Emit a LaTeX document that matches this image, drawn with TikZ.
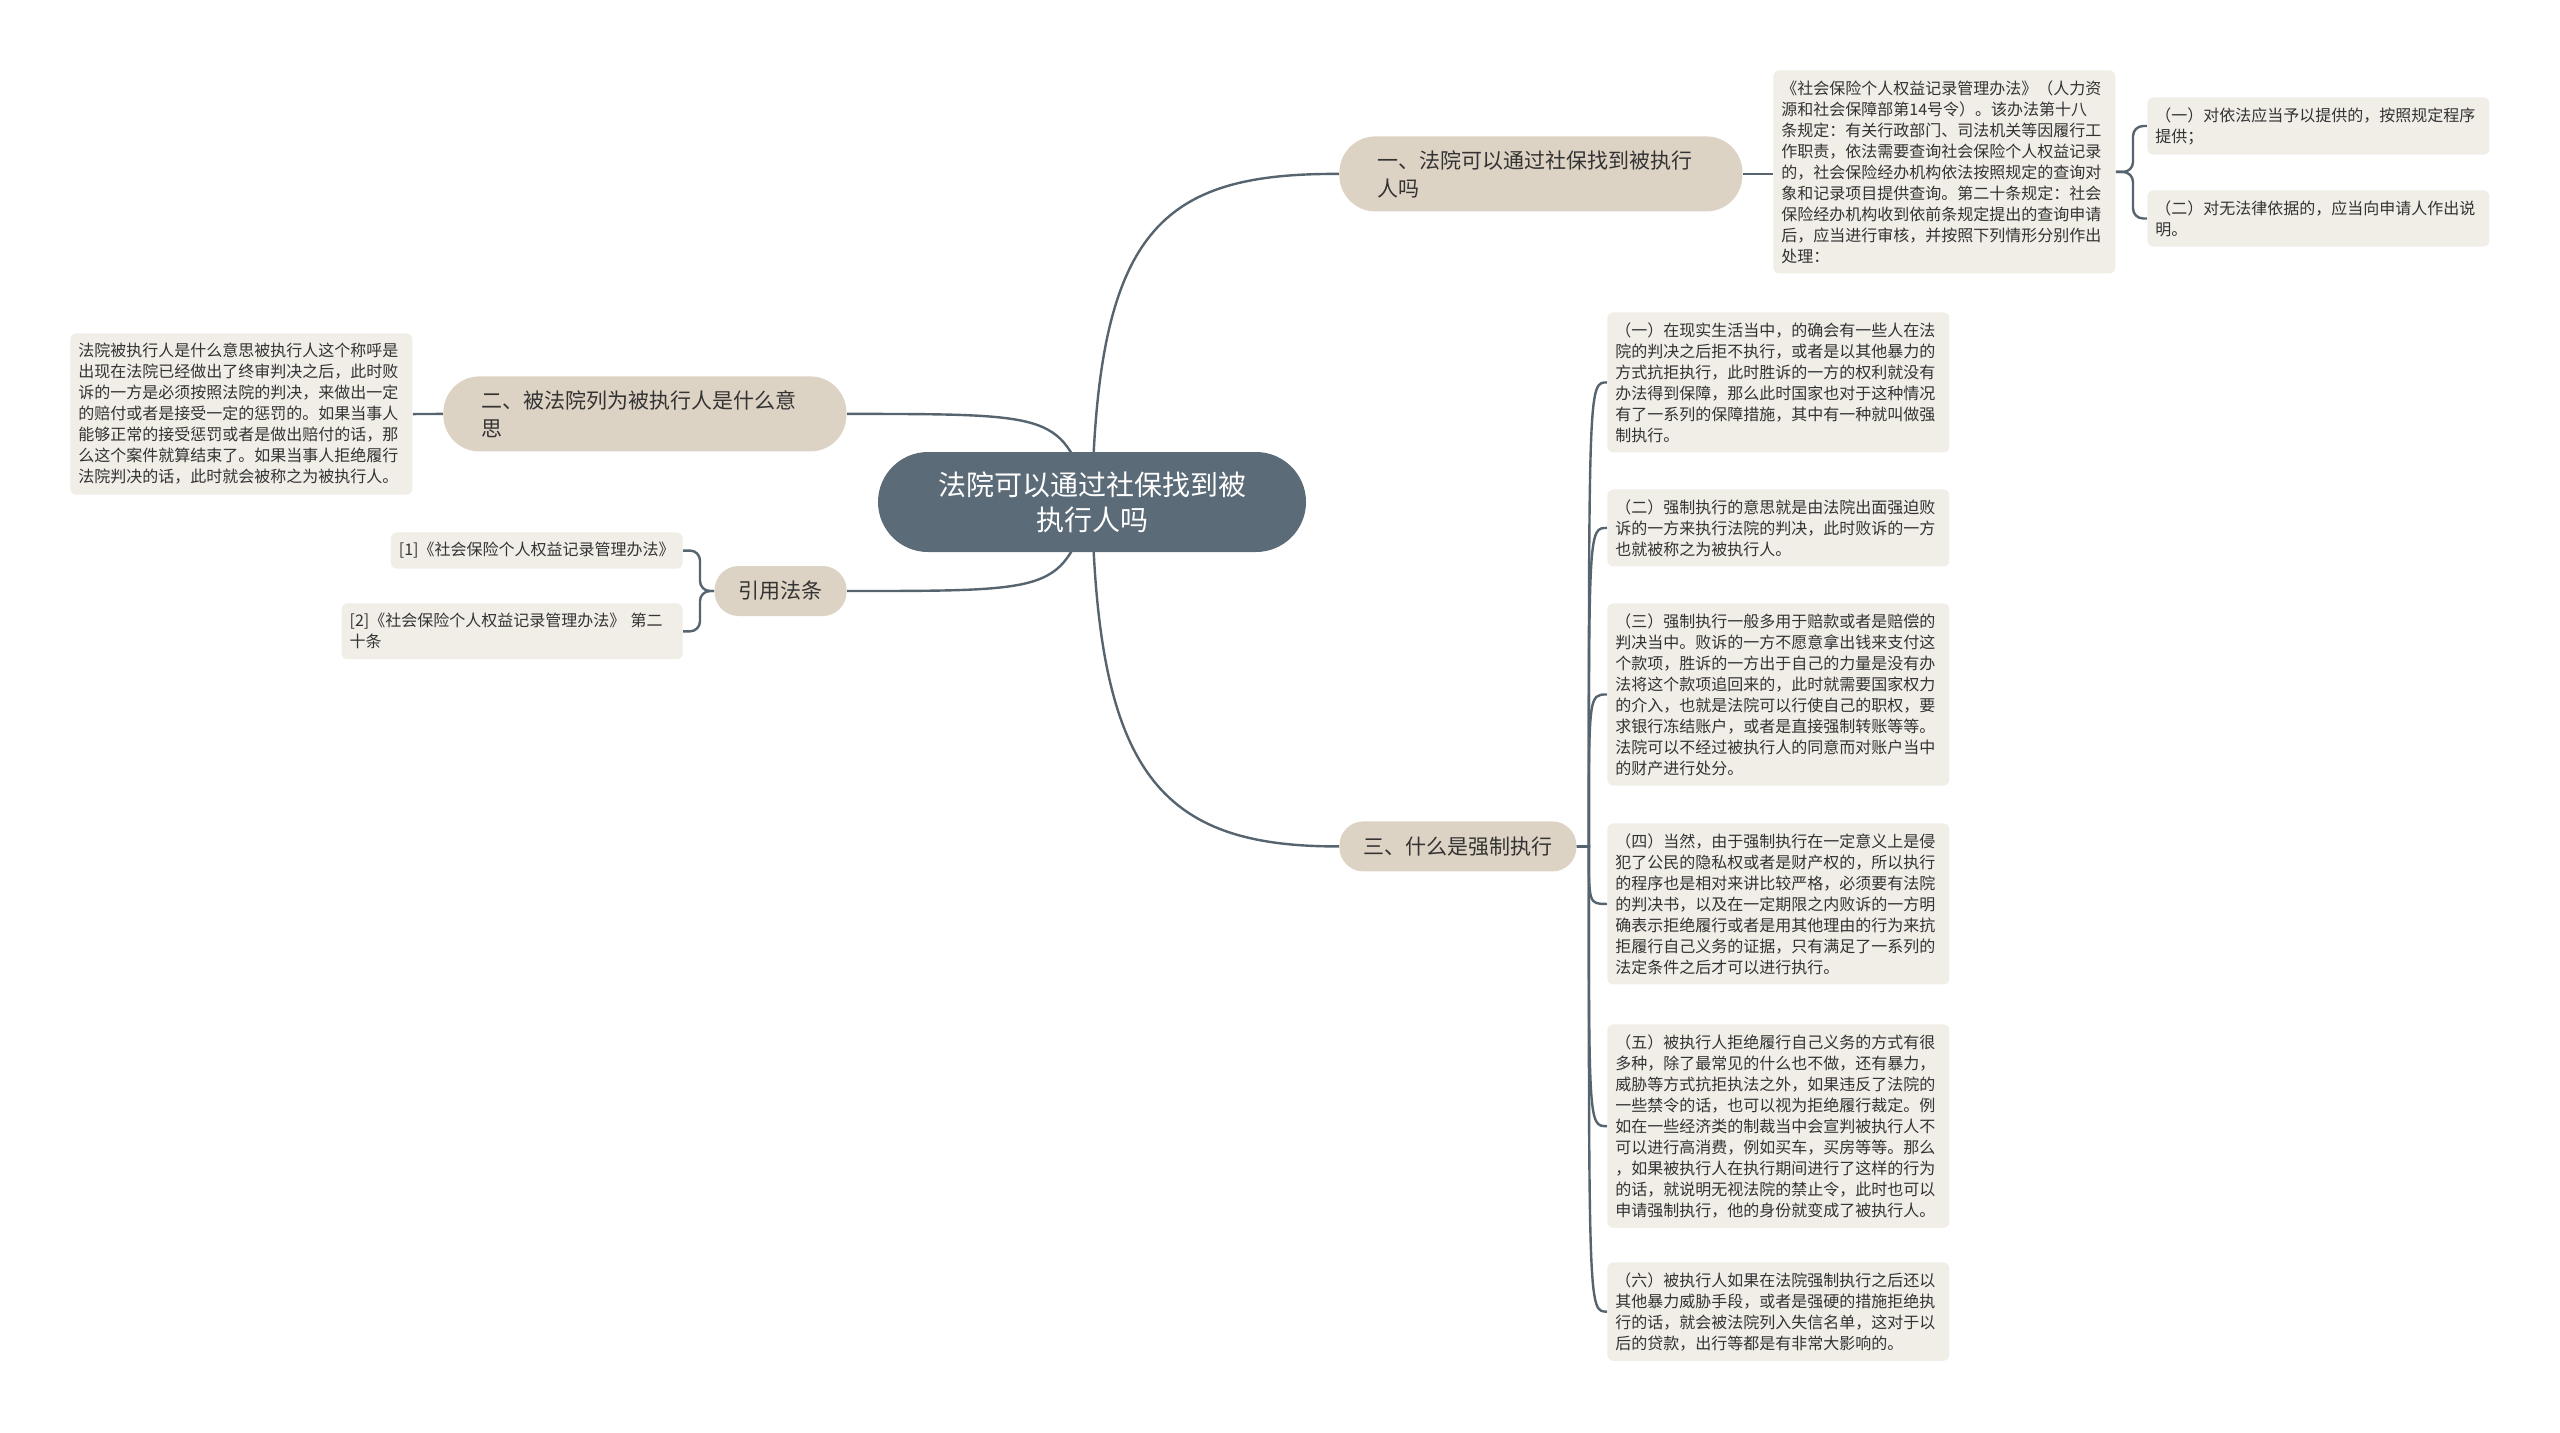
\documentclass[tikz,border=0pt]{standalone}
\usepackage{fontspec}
\setmainfont{Noto Sans CJK SC}
\usetikzlibrary{backgrounds}
\definecolor{rootc}{HTML}{5B6B77}
\definecolor{topicc}{HTML}{DDD3C4}
\definecolor{notec}{HTML}{F1EEE8}
\definecolor{linec}{HTML}{55646E}
\definecolor{textc}{HTML}{333333}

\begin{document}
\begin{tikzpicture}[x=0.5pt,y=-0.5pt,line cap=round,line join=round,
    root/.style={fill=rootc, text=white, rounded corners=25pt, minimum width=214pt, minimum height=50pt, inner sep=0pt, align=center, font=\fontsize{14pt}{17.5pt}\selectfont},
    topic/.style={fill=topicc, text=textc, inner ysep=3pt, align=left, font=\fontsize{10.5pt}{14pt}\selectfont},
    twoline/.style={topic, text width=163.5pt, inner xsep=19pt, minimum height=37.5pt, rounded corners=18pt},
    oneline/.style={topic, inner xsep=12pt, minimum height=25pt, rounded corners=12pt},
    note/.style={fill=notec, text=textc, rounded corners=3pt, inner xsep=4pt, inner ysep=5pt, align=left, font=\fontsize{8pt}{10.5pt}\selectfont},
    leaf/.style={note, text width=163pt},
    link/.style={draw=linec, line width=1.2pt}]
    \useasboundingbox (0,0) rectangle (2560,1432);

    \node[root] (root) at (1092,502) {法院可以通过社保找到被\\执行人吗};

    \node[twoline, anchor=north west] (b1) at (1339,136) {一、法院可以通过社保找到被执行\\人吗};
    \node[twoline, anchor=north west] (b2) at (443,376) {二、被法院列为被执行人是什么意\\思};
    \node[oneline, anchor=east] (ref) at (847,591) {引用法条};
    \node[oneline, anchor=north west] (b3) at (1339,821) {三、什么是强制执行};

    \node[leaf, anchor=north west] (a0) at (1773,70) {《社会保险个人权益记录管理办法》（人力资\\源和社会保障部第14号令）。该办法第十八\\条规定：有关行政部门、司法机关等因履行工\\作职责，依法需要查询社会保险个人权益记录\\的，社会保险经办机构依法按照规定的查询对\\象和记录项目提供查询。第二十条规定：社会\\保险经办机构收到依前条规定提出的查询申请\\后，应当进行审核，并按照下列情形分别作出\\处理：};
    \node[leaf, anchor=north west] (a1) at (2147,97) {（一）对依法应当予以提供的，按照规定程序\\提供；};
    \node[leaf, anchor=north west] (a2) at (2147,190) {（二）对无法律依据的，应当向申请人作出说\\明。};

    \node[leaf, anchor=north west] (d0) at (70,333) {法院被执行人是什么意思被执行人这个称呼是\\出现在法院已经做出了终审判决之后，此时败\\诉的一方是必须按照法院的判决，来做出一定\\的赔付或者是接受一定的惩罚的。如果当事人\\能够正常的接受惩罚或者是做出赔付的话，那\\么这个案件就算结束了。如果当事人拒绝履行\\法院判决的话，此时就会被称之为被执行人。};

    \node[note, anchor=north east] (r1) at (683,532) {[1]《社会保险个人权益记录管理办法》};
    \node[note, text width=162.5pt, anchor=north east] (r2) at (683,603) {[2]《社会保险个人权益记录管理办法》 第二\\十条};

    \node[leaf, anchor=north west] (c1) at (1607,312) {（一）在现实生活当中，的确会有一些人在法\\院的判决之后拒不执行，或者是以其他暴力的\\方式抗拒执行，此时胜诉的一方的权利就没有\\办法得到保障，那么此时国家也对于这种情况\\有了一系列的保障措施，其中有一种就叫做强\\制执行。};
    \node[leaf, anchor=north west] (c2) at (1607,489) {（二）强制执行的意思就是由法院出面强迫败\\诉的一方来执行法院的判决，此时败诉的一方\\也就被称之为被执行人。};
    \node[leaf, anchor=north west] (c3) at (1607,603) {（三）强制执行一般多用于赔款或者是赔偿的\\判决当中。败诉的一方不愿意拿出钱来支付这\\个款项，胜诉的一方出于自己的力量是没有办\\法将这个款项追回来的，此时就需要国家权力\\的介入，也就是法院可以行使自己的职权，要\\求银行冻结账户，或者是直接强制转账等等。\\法院可以不经过被执行人的同意而对账户当中\\的财产进行处分。};
    \node[leaf, anchor=north west] (c4) at (1607,823) {（四）当然，由于强制执行在一定意义上是侵\\犯了公民的隐私权或者是财产权的，所以执行\\的程序也是相对来讲比较严格，必须要有法院\\的判决书，以及在一定期限之内败诉的一方明\\确表示拒绝履行或者是用其他理由的行为来抗\\拒履行自己义务的证据，只有满足了一系列的\\法定条件之后才可以进行执行。};
    \node[leaf, anchor=north west] (c5) at (1607,1024) {（五）被执行人拒绝履行自己义务的方式有很\\多种，除了最常见的什么也不做，还有暴力，\\威胁等方式抗拒执法之外，如果违反了法院的\\一些禁令的话，也可以视为拒绝履行裁定。例\\如在一些经济类的制裁当中会宣判被执行人不\\可以进行高消费，例如买车，买房等等。那么\\，如果被执行人在执行期间进行了这样的行为\\的话，就说明无视法院的禁止令，此时也可以\\申请强制执行，他的身份就变成了被执行人。};
    \node[leaf, anchor=north west] (c6) at (1607,1262) {（六）被执行人如果在法院强制执行之后还以\\其他暴力威胁手段，或者是强硬的措施拒绝执\\行的话，就会被法院列入失信名单，这对于以\\后的贷款，出行等都是有非常大影响的。};

    \coordinate (s1) at (2133,172);
    \coordinate (s3) at ([xshift=6pt]b3.east);
    \coordinate (s4) at (700,591);

    \begin{scope}[on background layer]
        \fill[white] (0,0) rectangle (2560,1432);
        \draw[link] (root.center) .. controls (1097,230) and (1160,173) .. (b1.west);
        \draw[link] (root.center) .. controls (1097,774) and (1160,847) .. (b3.west);
        \draw[link] (root.center) .. controls (1060,414) .. (b2.east);
        \draw[link] (root.center) .. controls (1060,591) .. (ref.east);

        \draw[link] (b1.east) -- (a0.west |- b1.east);
        \draw[link, rounded corners=5pt] (a0.east) -- (s1) |- (a1.west);
        \draw[link, rounded corners=5pt] (a0.east) -- (s1) |- (a2.west);

        \draw[link] (d0.east) -- (b2.west);

        \draw[link, rounded corners=5pt] (ref.west) -- (s4) |- (r1.east);
        \draw[link, rounded corners=5pt] (ref.west) -- (s4) |- (r2.east);

        \foreach \n in {1,...,6}
            \draw[link] (b3.east) -- (s3) .. controls (s3 |- c\n.west) .. (c\n.west);
    \end{scope}
\end{tikzpicture}
\end{document}
